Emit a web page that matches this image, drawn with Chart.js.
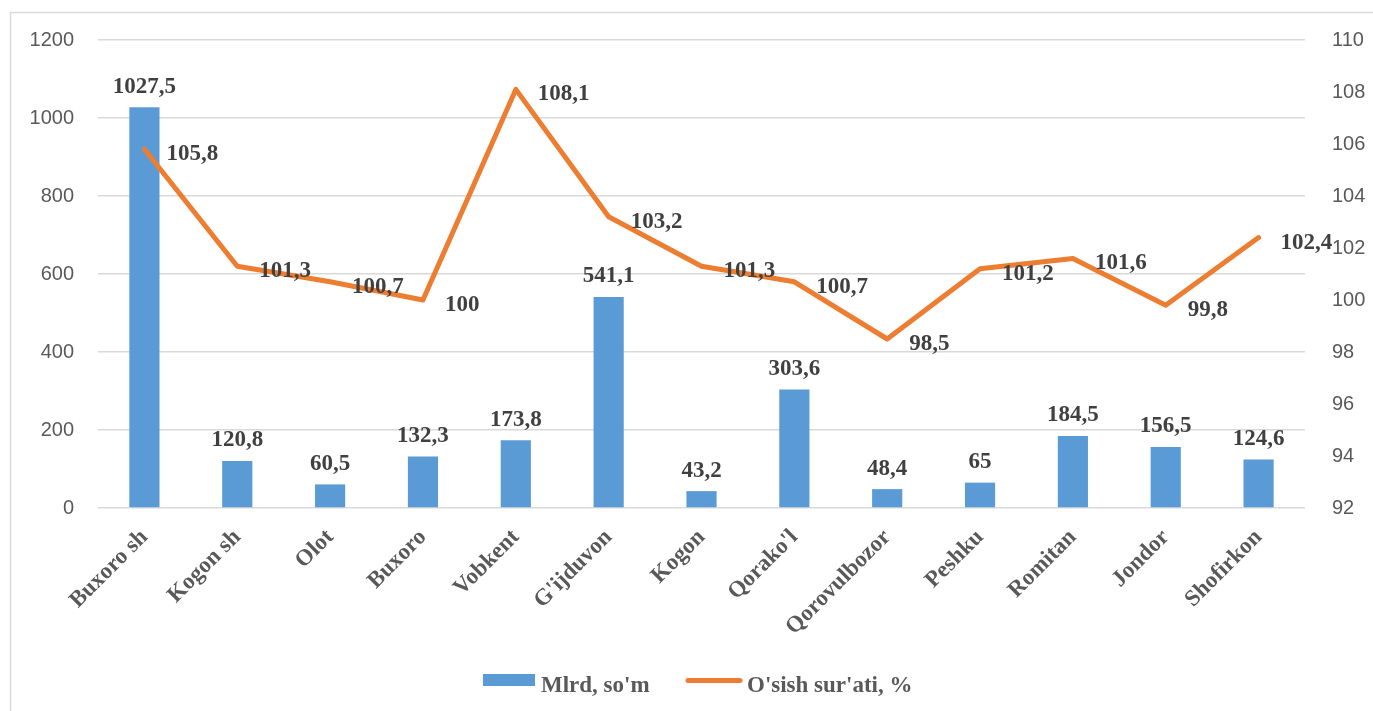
<!DOCTYPE html>
<html>
<head>
<meta charset="utf-8">
<script src="https://cdn.jsdelivr.net/npm/chart.js@4.4.1/dist/chart.umd.min.js"></script>
<style>
  html,body{margin:0;padding:0;background:#fff;}
  #wrap{position:relative;width:1373px;height:711px;}
  canvas{display:block;}
</style>
</head>
<body>
<div id="wrap"><canvas id="c" width="1373" height="711"></canvas></div>
<script>
const categories = ["Buxoro sh","Kogon sh","Olot","Buxoro","Vobkent","G'ijduvon","Kogon","Qorako'l","Qorovulbozor","Peshku","Romitan","Jondor","Shofirkon"];
const volume = [1027.5,120.8,60.5,132.3,173.8,541.1,43.2,303.6,48.4,65,184.5,156.5,124.6];
const growth = [105.8,101.3,100.7,100,108.1,103.2,101.3,100.7,98.5,101.2,101.6,99.8,102.4];
const volumeLabel = "Mlrd, so'm";
const growthLabel = "O'sish sur'ati, %";
const leftTicks = {min:0,max:1200,step:200};
const rightTicks = {min:92,max:110,step:2};

const SERIF = "Liberation Serif";
const SANS = "Liberation Sans";
const BAR_COLOR = '#5B9BD5';
const LINE_COLOR = '#ED7D31';
const fmt = v => String(v).replace('.', ',');

const borderPlugin = {
  id:'frame',
  beforeDraw(chart){
    const c = chart.ctx;
    c.save();
    c.fillStyle='#fff';
    c.fillRect(0,0,chart.width,chart.height);
    c.strokeStyle='#d9d9d9';
    c.lineWidth=1.5;
    c.strokeRect(10.5,12.5,1500,900);
    c.restore();
  }
};

const legendPlugin = {
  id:'customLegend',
  afterDraw(chart){
    const c = chart.ctx;
    c.save();
    c.font = "bold 23px '" + SERIF + "'";
    c.fillStyle = '#595959';
    c.textBaseline = 'alphabetic';
    c.textAlign = 'left';
    // item 1: bar
    c.fillStyle = BAR_COLOR;
    c.fillRect(483, 674, 52, 12);
    c.fillStyle = '#595959';
    c.fillText(chart.data.datasets[0].label, 541, 692);
    // item 2: line
    c.strokeStyle = LINE_COLOR;
    c.lineWidth = 5;
    c.lineCap = 'round';
    c.beginPath();
    c.moveTo(688, 680.5);
    c.lineTo(740, 680.5);
    c.stroke();
    c.fillStyle = '#595959';
    c.fillText(chart.data.datasets[1].label, 747, 692);
    c.restore();
  }
};

const labelPlugin = {
  id:'vlabels',
  afterDatasetsDraw(chart){
    const c = chart.ctx;
    c.save();
    c.font = "bold 23px '" + SERIF + "'";
    c.fillStyle = '#404040';
    const barMeta = chart.getDatasetMeta(0);
    barMeta.data.forEach((el,i)=>{
      c.textAlign='center';
      c.textBaseline='bottom';
      c.fillText(fmt(volume[i]), el.x, el.y-9);
    });
    const lineMeta = chart.getDatasetMeta(1);
    lineMeta.data.forEach((el,i)=>{
      c.textAlign='left';
      c.textBaseline='middle';
      c.fillText(fmt(growth[i]), el.x+22, el.y+5);
    });
    c.restore();
  }
};

new Chart(document.getElementById('c'), {
  data:{
    labels:categories,
    datasets:[
      {type:'bar',label:volumeLabel,data:volume,yAxisID:'y',backgroundColor:BAR_COLOR,
       barPercentage:0.65,categoryPercentage:0.5,order:2},
      {type:'line',label:growthLabel,data:growth,yAxisID:'y1',borderColor:LINE_COLOR,backgroundColor:LINE_COLOR,
       borderWidth:5,pointRadius:0,tension:0,order:1,borderCapStyle:'round',borderJoinStyle:'round'}
    ]
  },
  options:{
    responsive:false,
    animation:false,
    layout:{padding:{top:40,bottom:54,left:0,right:0}},
    plugins:{
      legend:{display:false},
      tooltip:{enabled:false}
    },
    scales:{
      x:{
        grid:{display:false,drawTicks:false},
        border:{display:false},
        ticks:{maxRotation:45,minRotation:45,autoSkip:false,color:'#595959',padding:16,
               font:{family:SERIF,size:23,weight:'bold'}},
        afterFit(s){ s.height = 149; }
      },
      y:{
        position:'left',min:leftTicks.min,max:leftTicks.max,
        ticks:{stepSize:leftTicks.step,color:'#595959',padding:24,font:{family:SANS,size:20,weight:'normal'},
               callback:v=>String(v)},
        grid:{color:'#d9d9d9',lineWidth:1.5,drawTicks:false},
        border:{display:false},
        afterFit(s){ s.width = 98; }
      },
      y1:{
        position:'right',min:rightTicks.min,max:rightTicks.max,
        ticks:{stepSize:rightTicks.step,color:'#595959',padding:27,font:{family:SANS,size:20,weight:'normal'},
               callback:v=>String(v)},
        grid:{display:false,drawTicks:false},
        border:{display:false},
        afterFit(s){ s.width = 68; }
      }
    }
  },
  plugins:[borderPlugin,labelPlugin,legendPlugin]
});
</script>
</body>
</html>
